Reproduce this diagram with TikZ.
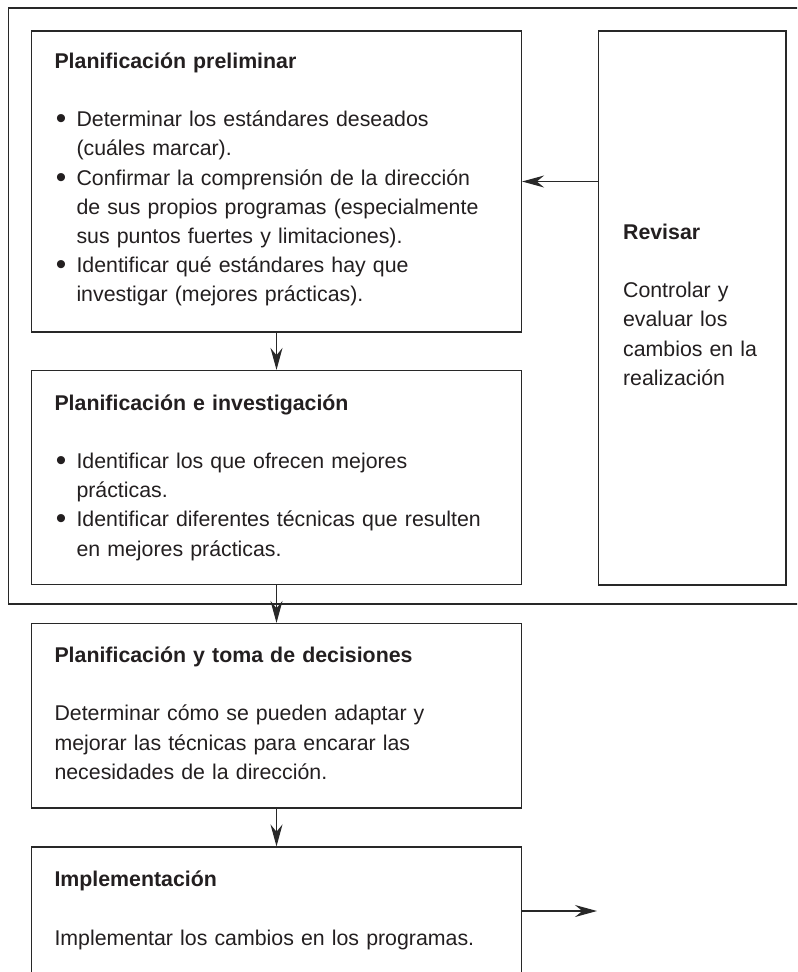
\documentclass[tikz,border=0pt]{standalone}
\usepackage{fontspec}
\usepackage{graphicx}
\setmainfont{Liberation Sans}
\usetikzlibrary{arrows.meta}

\definecolor{inkline}{RGB}{40,40,40}
\definecolor{inktext}{RGB}{35,31,32}

\tikzset{every picture/.style={line width=0.75pt}}
\tikzset{
  stagebox/.style={draw=inkline, line width=0.9pt, inner sep=0pt},
  stagetext/.style={anchor=base west, inner sep=0pt, align=left, text=inktext,
    font=\fontsize{16}{21.9}\selectfont},
  flow/.style={draw=inkline, line width=0.9pt, -{Stealth[length=16.5pt,width=9pt,inset=5.5pt]}},
}
\newcommand{\itm}{\makebox[16.5pt][l]{\hspace{1pt}\raisebox{-1.6pt}{\scalebox{1.4}{\textbullet}}}}
\newcommand{\cont}{\hspace*{16.5pt}}

\begin{document}
\begin{tikzpicture}[x=0.75pt,y=0.75pt,yscale=-1,xscale=1]
	\useasboundingbox (0,0) rectangle (797,972);
	\clip (0,0) rectangle (797,972);
	
	%Shape: Rectangle [outer frame]
	\node (frame) [stagebox, minimum width=598.125pt, minimum height=447pt] at (407.25,306) {};
	%Shape: Rectangle [preliminar]
	\node (prelim) [stagebox, fill=white, minimum width=367.5pt, minimum height=225.75pt] at (276.5,181.5) {};
	%Shape: Rectangle [revisar]
	\node (rev) [stagebox, fill=white, minimum width=140.625pt, minimum height=415.5pt] at (692.25,308) {};
	%Shape: Rectangle [investigacion]
	\node (invest) [stagebox, fill=white, minimum width=367.5pt, minimum height=160.5pt] at (276.5,477.5) {};
	%Shape: Rectangle [decisiones]
	\node (decide) [stagebox, fill=white, minimum width=367.5pt, minimum height=138.375pt] at (276.5,715.75) {};
	%Shape: Rectangle [implementacion]
	\node (impl) [stagebox, fill=white, minimum width=367.5pt, minimum height=96pt] at (276.5,911) {};
	
	%Straight Lines
	\draw [flow] (prelim.east -| rev.west) -- (prelim.east) ;
	%Straight Lines
	\draw [flow] (prelim.south) -- (invest.north) ;
	%Straight Lines
	\draw [flow] (invest.south) -- (decide.north) ;
	%Straight Lines
	\draw [flow] (decide.south) -- (impl.north) ;
	%Straight Lines
	\coordinate (out) at (597,911) ;
	\draw [flow] (impl.east) -- (out) ;
	
	% Text Node
	\node (prelimtxt) [stagetext, text width=340pt] at (54,68.3) {\textbf{Planificación preliminar}\\[21.9pt]
		\itm Determinar los estándares deseados\\
		\cont (cuáles marcar).\\
		\itm Confirmar la comprensión de la dirección\\
		\cont de sus propios programas (especialmente\\
		\cont sus puntos fuertes y limitaciones).\\
		\itm Identificar qué estándares hay que\\
		\cont investigar (mejores prácticas).};
	% Text Node
	\node (investtxt) [stagetext, text width=340pt] at (54,410) {\textbf{Planificación e investigación}\\[21.9pt]
		\itm Identificar los que ofrecen mejores\\
		\cont prácticas.\\
		\itm Identificar diferentes técnicas que resulten\\
		\cont en mejores prácticas.};
	% Text Node
	\node (revtxt) [stagetext, text width=120pt] at (622.6,239.3) {\textbf{Revisar}\\[21.9pt]
		Controlar y\\
		evaluar los\\
		cambios en la\\
		realización};
	% Text Node
	\node (decidetxt) [stagetext, text width=340pt] at (54,662.5) {\textbf{Planificación y toma de decisiones}\\[21.9pt]
		Determinar cómo se pueden adaptar y\\
		mejorar las técnicas para encarar las\\
		necesidades de la dirección.};
	% Text Node
	\node (impltxt) [stagetext, text width=340pt] at (54,886.7) {\textbf{Implementación}\\[21.9pt]
		Implementar los cambios en los programas.};
	
\end{tikzpicture}
\end{document}
